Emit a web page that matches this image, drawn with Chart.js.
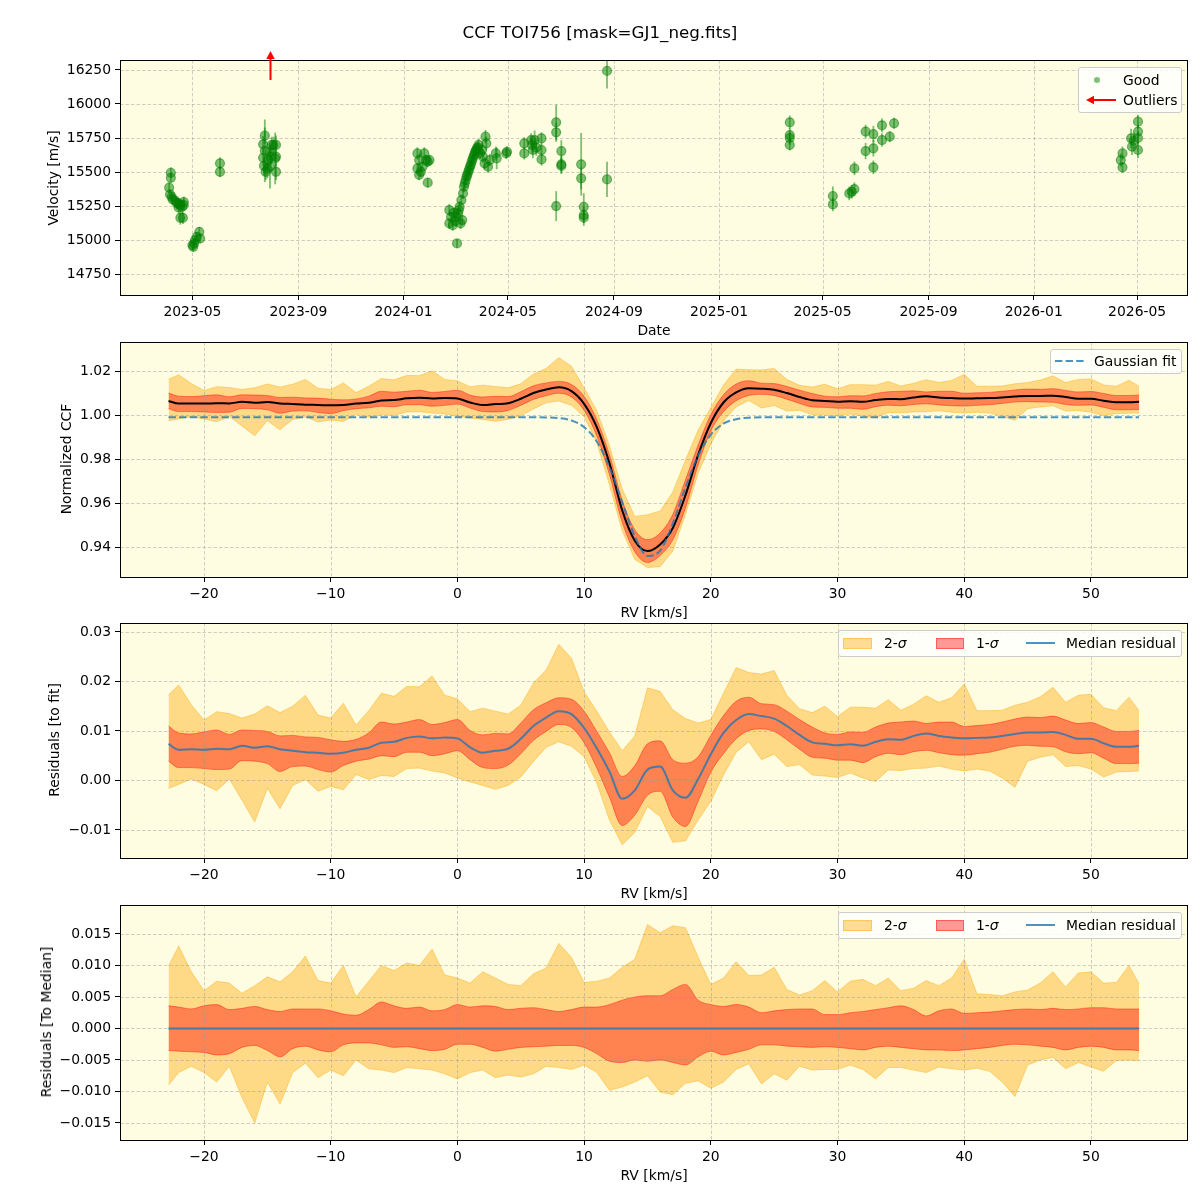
<!DOCTYPE html>
<html>
<head>
<meta charset="utf-8">
<title>CCF TOI756</title>
<script src="https://cdn.jsdelivr.net/npm/chart.js@4.4.1/dist/chart.umd.min.js"></script>
<style>
html,body{margin:0;padding:0;background:#ffffff;}
#fig{position:relative;width:1200px;height:1200px;background:#ffffff;font-family:"DejaVu Sans",sans-serif;color:#000;overflow:hidden;}
canvas{position:absolute;left:0;}
.txt{position:absolute;white-space:nowrap;font-size:13.9px;line-height:16px;}
.cen{position:absolute;white-space:nowrap;font-size:13.9px;line-height:16px;transform:translate(-50%,-50%);}
.ylab{position:absolute;white-space:nowrap;font-size:13.9px;line-height:16px;transform:translate(-50%,-50%) rotate(-90deg);}
.legend{position:absolute;box-sizing:border-box;background:rgba(255,255,255,0.8);border:1px solid #cccccc;border-radius:3px;}
.patch{position:absolute;box-sizing:border-box;}
</style>
</head>
<body>
<div id="fig">
  <canvas id="c1" width="1200" height="285" style="top:40px"></canvas>
  <canvas id="c2" width="1200" height="285" style="top:322px"></canvas>
  <canvas id="c3" width="1200" height="285" style="top:603px"></canvas>
  <canvas id="c4" width="1200" height="285" style="top:885px"></canvas>

  <div class="cen" style="left:600px;top:32px;font-size:16.7px;line-height:20px;">CCF TOI756 [mask=GJ1_neg.fits]</div>

  <div class="cen" style="left:654px;top:330px;">Date</div>
  <div class="cen" style="left:654px;top:612px;">RV [km/s]</div>
  <div class="cen" style="left:654px;top:893px;">RV [km/s]</div>
  <div class="cen" style="left:654px;top:1175px;">RV [km/s]</div>

  <div class="ylab" style="left:53px;top:178px;">Velocity [m/s]</div>
  <div class="ylab" style="left:66px;top:459px;">Normalized CCF</div>
  <div class="ylab" style="left:54px;top:740px;">Residuals [to fit]</div>
  <div class="ylab" style="left:46px;top:1022px;">Residuals [To Median]</div>

  <!-- legend panel 1 -->
  <div class="legend" style="left:1078px;top:67px;width:104px;height:46px;"></div>
  <div class="patch" style="left:1094px;top:76.5px;width:6px;height:6px;border-radius:50%;background:rgba(0,128,0,0.5);"></div>
  <div class="txt" style="left:1123px;top:71.5px;">Good</div>
  <svg style="position:absolute;left:1084px;top:94px;" width="36" height="12">
    <line x1="8" y1="6" x2="32" y2="6" stroke="#ff0000" stroke-width="2"/>
    <polygon points="2,6 10,1.8 10,10.2" fill="#ff0000"/>
  </svg>
  <div class="txt" style="left:1123px;top:92px;">Outliers</div>

  <!-- legend panel 2 -->
  <div class="legend" style="left:1050px;top:349px;width:132px;height:25px;"></div>
  <svg style="position:absolute;left:1054px;top:355.5px;" width="31" height="10">
    <line x1="1" y1="5" x2="30" y2="5" stroke="rgba(31,119,180,0.8)" stroke-width="2" stroke-dasharray="7.4,3.2"/>
  </svg>
  <div class="txt" style="left:1094px;top:352.5px;">Gaussian fit</div>

  <!-- legend panel 3 -->
  <div class="legend" style="left:838px;top:630px;width:344px;height:27px;"></div>
  <div class="patch" style="left:843px;top:637.5px;width:29px;height:11px;background:rgba(255,165,0,0.4);border:1px solid rgba(255,165,0,0.4);"></div>
  <div class="txt" style="left:884px;top:635px;">2-<i>σ</i></div>
  <div class="patch" style="left:936px;top:637.5px;width:28px;height:11px;background:rgba(255,0,0,0.4);border:1px solid rgba(255,0,0,0.4);"></div>
  <div class="txt" style="left:976px;top:635px;">1-<i>σ</i></div>
  <svg style="position:absolute;left:1026px;top:638px;" width="30" height="10">
    <line x1="0" y1="5" x2="29" y2="5" stroke="rgba(31,119,180,0.8)" stroke-width="2"/>
  </svg>
  <div class="txt" style="left:1066px;top:635px;">Median residual</div>

  <!-- legend panel 4 -->
  <div class="legend" style="left:838px;top:912px;width:344px;height:27px;"></div>
  <div class="patch" style="left:843px;top:919.5px;width:29px;height:11px;background:rgba(255,165,0,0.4);border:1px solid rgba(255,165,0,0.4);"></div>
  <div class="txt" style="left:884px;top:917px;">2-<i>σ</i></div>
  <div class="patch" style="left:936px;top:919.5px;width:28px;height:11px;background:rgba(255,0,0,0.4);border:1px solid rgba(255,0,0,0.4);"></div>
  <div class="txt" style="left:976px;top:917px;">1-<i>σ</i></div>
  <svg style="position:absolute;left:1026px;top:920px;" width="30" height="10">
    <line x1="0" y1="5" x2="29" y2="5" stroke="rgba(31,119,180,0.8)" stroke-width="2"/>
  </svg>
  <div class="txt" style="left:1066px;top:917px;">Median residual</div>
</div>

<script>
// ---------------- DATA ----------------
// RV grid (km/s)
const rvGrid = [-22.8,-22,-21,-20,-19,-18,-17,-16,-15,-14,-13,-12,-11,-10,-9,-8,-7,-6,-5,-4,-3,-2,-1,0,
  1,2,3,4,5,6,7,8,9,10,11,12,13,14,15,16,17,18,19,20,21,22,23,24,25,26,27,28,29,30,
  31,32,33,34,35,36,37,38,39,40,41,42,43,44,45,46,47,48,49,50,51,52,53,53.8];

// Gaussian fit of the CCF
const gaussFit = [0.999,0.999,0.999,0.999,0.999,0.999,0.999,0.999,0.999,0.999,
  0.999,0.999,0.999,0.999,0.999,0.999,0.999,0.999,0.999,0.999,
  0.999,0.999,0.999,0.999,0.999,0.999,0.999,0.999,0.999,0.999,
  0.9989,0.9986,0.9975,0.9945,0.9880,0.9763,0.9605,0.9449,0.9360,0.9384,
  0.9507,0.9671,0.9816,0.9911,0.9961,0.9981,0.9988,0.999,0.999,0.999,
  0.999,0.999,0.999,0.999,0.999,0.999,0.999,0.999,0.999,0.999,
  0.999,0.999,0.999,0.999,0.999,0.999,0.999,0.999,0.999,0.999,
  0.999,0.999,0.999,0.999,0.999,0.999,0.999,0.999];

// Median residual (CCF - fit)
const medResid = [0.0074,0.0062,0.0063,0.0062,0.0064,0.0063,0.0070,0.0066,0.0069,0.0063,
  0.0060,0.0057,0.0056,0.0054,0.0056,0.0062,0.0066,0.0076,0.0078,0.0086,
  0.0089,0.0085,0.0087,0.0085,0.0067,0.0056,0.0060,0.0064,0.0084,0.0110,
  0.0127,0.0140,0.0134,0.0106,0.0065,0.0018,-0.0037,-0.0020,0.0022,0.0028,
  -0.0020,-0.0035,0.0003,0.0053,0.0096,0.0122,0.0134,0.0130,0.0125,0.0110,
  0.0092,0.0077,0.0074,0.0071,0.0073,0.0070,0.0078,0.0083,0.0082,0.0090,
  0.0095,0.0090,0.0087,0.0085,0.0086,0.0087,0.0090,0.0094,0.0097,0.0097,
  0.0098,0.0092,0.0084,0.0084,0.0075,0.0068,0.0068,0.0070];

// Deviations from the median (residuals to median)
const sig1Up = [0.0036,0.0034,0.0031,0.0036,0.0038,0.0030,0.0032,0.0035,0.0030,0.0027,
  0.0031,0.0031,0.0031,0.0028,0.0023,0.0021,0.0030,0.0042,0.0036,0.0032,
  0.0034,0.0028,0.0030,0.0038,0.0034,0.0036,0.0035,0.0030,0.0032,0.0033,
  0.0030,0.0027,0.0030,0.0034,0.0034,0.0038,0.0045,0.0050,0.0052,0.0052,
  0.0062,0.0070,0.0045,0.0038,0.0035,0.0038,0.0034,0.0025,0.0028,0.0030,
  0.0031,0.0031,0.0022,0.0022,0.0025,0.0027,0.0030,0.0033,0.0036,0.0030,
  0.0020,0.0028,0.0031,0.0024,0.0025,0.0026,0.0028,0.0030,0.0031,0.0030,
  0.0032,0.0030,0.0031,0.0033,0.0033,0.0031,0.0031,0.0031];
const sig1Lo = [-0.0035,-0.0036,-0.0037,-0.0038,-0.0042,-0.0040,-0.0030,-0.0027,-0.0035,-0.0045,
  -0.0032,-0.0028,-0.0034,-0.0037,-0.0026,-0.0023,-0.0023,-0.0026,-0.0030,-0.0029,
  -0.0032,-0.0035,-0.0033,-0.0025,-0.0025,-0.0030,-0.0036,-0.0033,-0.0030,-0.0029,
  -0.0028,-0.0027,-0.0027,-0.0030,-0.0040,-0.0052,-0.0054,-0.0050,-0.0052,-0.0050,
  -0.0054,-0.0058,-0.0045,-0.0036,-0.0042,-0.0038,-0.0033,-0.0026,-0.0026,-0.0028,
  -0.0029,-0.0030,-0.0029,-0.0030,-0.0032,-0.0034,-0.0030,-0.0028,-0.0030,-0.0032,
  -0.0034,-0.0034,-0.0035,-0.0034,-0.0032,-0.0030,-0.0027,-0.0025,-0.0026,-0.0028,
  -0.0030,-0.0034,-0.0030,-0.0028,-0.0030,-0.0034,-0.0034,-0.0035];
const sig2Up = [0.0099,0.0131,0.0090,0.0060,0.0075,0.0072,0.0056,0.0068,0.0082,0.0074,
  0.0090,0.0115,0.0076,0.0072,0.0100,0.0050,0.0075,0.0100,0.0092,0.0104,
  0.0100,0.0126,0.0085,0.0080,0.0072,0.0090,0.0080,0.0070,0.0068,0.0087,
  0.0096,0.0135,0.0113,0.0073,0.0075,0.0080,0.0097,0.0110,0.0165,0.0152,
  0.0163,0.0160,0.0113,0.0070,0.0080,0.0106,0.0084,0.0085,0.0097,0.0062,
  0.0053,0.0060,0.0076,0.0058,0.0075,0.0078,0.0068,0.0080,0.0060,0.0064,
  0.0076,0.0068,0.0080,0.0110,0.0055,0.0054,0.0052,0.0058,0.0061,0.0072,
  0.0090,0.0066,0.0088,0.0090,0.0072,0.0073,0.0100,0.0071];
const sig2Lo = [-0.0090,-0.0070,-0.0060,-0.0070,-0.0085,-0.0060,-0.0110,-0.0150,-0.0085,-0.0120,
  -0.0070,-0.0055,-0.0078,-0.0066,-0.0075,-0.0050,-0.0064,-0.0066,-0.0070,-0.0062,
  -0.0064,-0.0066,-0.0072,-0.0080,-0.0070,-0.0066,-0.0078,-0.0074,-0.0077,-0.0072,
  -0.0060,-0.0062,-0.0065,-0.0058,-0.0070,-0.0098,-0.0093,-0.0085,-0.0075,-0.0101,
  -0.0105,-0.0087,-0.0083,-0.0095,-0.0085,-0.0065,-0.0056,-0.0088,-0.0072,-0.0082,
  -0.0060,-0.0066,-0.0065,-0.0065,-0.0058,-0.0065,-0.0080,-0.0062,-0.0062,-0.0066,
  -0.0070,-0.0061,-0.0064,-0.0066,-0.0063,-0.0068,-0.0085,-0.0108,-0.0058,-0.0050,
  -0.0046,-0.0064,-0.0054,-0.0061,-0.0068,-0.0051,-0.0050,-0.0051];

// Tick values
const rvTicks = [-20,-10,0,10,20,30,40,50];
const ccfTicks = [0.94,0.96,0.98,1.00,1.02];
const fitResTicks = [-0.01,0.00,0.01,0.02,0.03];
const medResTicks = [-0.015,-0.010,-0.005,0.000,0.005,0.010,0.015];
const velTicks = [14750,15000,15250,15500,15750,16000,16250];
const dateTicks = ['2023-05','2023-09','2024-01','2024-05','2024-09','2025-01','2025-05','2025-09','2026-01','2026-05'];

// RV time series (good points)
const obsDates = [
  '2023-04-04','2023-04-05','2023-04-06','2023-04-06','2023-04-07','2023-04-08','2023-04-11','2023-04-13','2023-04-15','2023-04-15','2023-04-17','2023-04-17','2023-04-19','2023-04-20','2023-04-21','2023-04-21',
  '2023-05-01','2023-05-02','2023-05-03','2023-05-04','2023-05-06','2023-05-09','2023-05-10',
  '2023-06-02','2023-06-02',
  '2023-07-22','2023-07-22','2023-07-23','2023-07-24','2023-07-24','2023-07-25','2023-07-27','2023-07-28','2023-07-30','2023-07-30','2023-07-31','2023-08-01','2023-08-03','2023-08-05','2023-08-06','2023-08-06','2023-08-06',
  '2024-01-17','2024-01-17','2024-01-19','2024-01-19','2024-01-21','2024-01-23','2024-01-25','2024-01-27','2024-01-29','2024-01-29','2024-01-31',
  '2024-02-23','2024-02-23','2024-02-25','2024-02-27','2024-02-28','2024-03-01','2024-03-02','2024-03-03','2024-03-04','2024-03-05','2024-03-06','2024-03-07','2024-03-08','2024-03-09','2024-03-10','2024-03-11','2024-03-12','2024-03-13','2024-03-14','2024-03-15','2024-03-16','2024-03-17','2024-03-18','2024-03-19','2024-03-20','2024-03-21','2024-03-22','2024-03-23','2024-03-24','2024-03-25','2024-03-26','2024-03-27','2024-03-28','2024-03-30','2024-04-01','2024-04-02','2024-04-04','2024-04-05','2024-04-06','2024-04-08','2024-04-10','2024-04-17','2024-04-18','2024-04-29','2024-04-30',
  '2024-05-20','2024-05-20','2024-05-28','2024-05-29','2024-05-30','2024-06-01','2024-06-03','2024-06-09','2024-06-09','2024-06-09',
  '2024-06-26','2024-06-26','2024-06-26','2024-07-02','2024-07-02','2024-07-02',
  '2024-07-25','2024-07-25','2024-07-28','2024-07-28','2024-07-28',
  '2024-08-24','2024-08-24',
  '2025-03-24','2025-03-24','2025-03-24','2025-03-24',
  '2025-05-13','2025-05-13',
  '2025-06-01','2025-06-04','2025-06-07','2025-06-07',
  '2025-06-20','2025-06-20','2025-06-29','2025-06-29','2025-06-29','2025-07-09','2025-07-09','2025-07-18','2025-07-23',
  '2026-04-12','2026-04-14','2026-04-14','2026-04-24','2026-04-25','2026-04-27','2026-05-02','2026-05-02','2026-05-02','2026-05-02'
];
const obsVel = [
  15385,15336,15495,15458,15318,15300,15289,15270,15270,15240,15257,15164,15245,15164,15257,15280,
  14963,14951,14976,15000,15024,15061,15012,
  15564,15502,
  15704,15605,15546,15767,15656,15502,15525,15588,15540,15649,15610,15699,15699,15600,15699,15613,15502,
  15637,15527,15588,15480,15502,15540,15637,15588,15576,15422,15588,
  15221,15123,15170,15110,15200,15140,15171,14976,15196,15220,15245,15123,15294,15147,15343,15392,15417,15440,15466,15480,15502,15520,15539,15555,15576,15595,15613,15630,15649,15660,15674,15680,15699,15640,15662,15613,15564,15760,15711,15539,15588,15637,15601,15637,15649,
  15711,15637,15735,15699,15662,15735,15680,15748,15662,15593,
  15865,15792,15250,15654,15557,15545,
  15557,15454,15245,15184,15165,
  16243,15446,
  15865,15772,15750,15699,
  15324,15262,
  15343,15355,15375,15527,
  15797,15654,15779,15674,15535,15843,15735,15760,15858,
  15588,15637,15535,15748,15686,15730,15870,15797,15750,15662
];
const obsErr = [
  40,35,40,35,35,35,40,45,40,50,40,50,50,45,45,40,
  35,35,35,35,35,35,35,
  45,40,
  60,60,70,60,230,60,70,60,160,60,60,60,60,190,70,70,60,
  45,40,45,40,40,40,45,40,40,35,40,
  45,40,40,40,40,40,40,30,40,40,40,40,40,40,40,40,40,40,40,40,40,40,40,40,40,40,40,40,40,40,45,45,45,45,45,45,45,50,50,45,45,50,80,40,40,
  45,45,50,60,60,70,60,45,45,45,
  130,70,110,80,60,60,
  230,80,100,60,60,
  130,130,
  50,50,50,40,
  70,50,
  50,50,50,50,
  50,60,60,60,50,50,50,40,40,
  50,50,40,70,60,60,50,50,50,60
];
// Outliers (above the plotted range)
const outlierDates = ['2023-07-30'];

// ---------------- HELPERS ----------------
const toTs = s => Date.parse(s + 'T00:00:00Z');
const FONT = {family: '"DejaVu Sans", sans-serif', size: 13.9};
const BG = '#fefde2';
const GRIDC = 'rgba(150,150,150,0.45)';
const ORANGE = 'rgba(255,165,0,0.4)';
const RED = 'rgba(255,0,0,0.4)';
const BLUE = 'rgba(31,119,180,0.8)';
function fmt(v, d) {
  const s = Math.abs(v) < 1e-12 ? (0).toFixed(d) : v.toFixed(d);
  return s.replace('-', '\u2212');
}

function drawGrid(chart) {
  const {ctx, chartArea: a, scales} = chart;
  ctx.save();
  ctx.beginPath();
  ctx.rect(a.left, a.top, a.right - a.left, a.bottom - a.top);
  ctx.clip();
  ctx.strokeStyle = GRIDC;
  ctx.lineWidth = 1;
  ctx.setLineDash([3.5, 2]);
  scales.x.ticks.forEach(t => {
    const p = Math.round(scales.x.getPixelForValue(t.value)) + 0.5;
    ctx.beginPath(); ctx.moveTo(p, a.top); ctx.lineTo(p, a.bottom); ctx.stroke();
  });
  scales.y.ticks.forEach(t => {
    const p = Math.round(scales.y.getPixelForValue(t.value)) + 0.5;
    ctx.beginPath(); ctx.moveTo(a.left, p); ctx.lineTo(a.right, p); ctx.stroke();
  });
  ctx.restore();
}

const framePlugin = {
  id: 'mplFrame',
  beforeDraw(chart) {
    const {ctx, chartArea: a} = chart;
    ctx.save();
    ctx.fillStyle = BG;
    ctx.fillRect(a.left, a.top, a.right - a.left, a.bottom - a.top);
    ctx.restore();
  },
  afterDraw(chart) {
    const {ctx, chartArea: a} = chart;
    ctx.save();
    ctx.strokeStyle = '#000';
    ctx.lineWidth = 1;
    ctx.setLineDash([]);
    ctx.strokeRect(a.left + 0.5, a.top + 0.5, a.right - a.left - 1, a.bottom - a.top);
    ctx.restore();
  }
};

const gridPlugin = {
  id: 'mplGrid',
  beforeDatasetsDraw(chart, args, opts) { if (opts.atIndex == null) drawGrid(chart); },
  beforeDatasetDraw(chart, args, opts) { if (opts.atIndex === args.index) drawGrid(chart); }
};

const errPlugin = {
  id: 'errBars',
  beforeDatasetsDraw(chart) {
    const {ctx, chartArea: a, scales: {x, y}} = chart;
    ctx.save();
    ctx.beginPath();
    ctx.rect(a.left, a.top, a.right - a.left, a.bottom - a.top);
    ctx.clip();
    ctx.strokeStyle = 'rgba(0,128,0,0.5)';
    ctx.lineWidth = 1.8;
    obsDates.forEach((d, i) => {
      const px = x.getPixelForValue(toTs(d));
      ctx.beginPath();
      ctx.moveTo(px, y.getPixelForValue(obsVel[i] - obsErr[i]));
      ctx.lineTo(px, y.getPixelForValue(obsVel[i] + obsErr[i]));
      ctx.stroke();
    });
    ctx.restore();
  }
};

const outlierPlugin = {
  id: 'outliers',
  afterDraw(chart) {
    const {ctx, chartArea: a, scales: {x}} = chart;
    ctx.save();
    ctx.strokeStyle = '#ff0000';
    ctx.fillStyle = '#ff0000';
    ctx.lineWidth = 2;
    outlierDates.forEach(d => {
      const px = Math.round(x.getPixelForValue(toTs(d))) + 0.5;
      ctx.beginPath(); ctx.moveTo(px, a.top + 20); ctx.lineTo(px, a.top - 3); ctx.stroke();
      ctx.beginPath();
      ctx.moveTo(px, a.top - 9);
      ctx.lineTo(px - 4.2, a.top - 1);
      ctx.lineTo(px + 4.2, a.top - 1);
      ctx.closePath(); ctx.fill();
    });
    ctx.restore();
  }
};

function baseScaleX(extra) {
  return Object.assign({
    type: 'linear',
    afterFit: s => { s.height = 30; },
    ticks: {font: FONT, color: '#000', padding: 4, maxRotation: 0, autoSkip: false},
    grid: {drawOnChartArea: false, drawTicks: true, tickLength: 5, tickColor: '#000', tickWidth: 1},
    border: {display: false}
  }, extra);
}
function baseScaleY(extra) {
  return Object.assign({
    type: 'linear',
    afterFit: s => { s.width = 120; },
    ticks: {font: FONT, color: '#000', padding: 4, autoSkip: false},
    grid: {drawOnChartArea: false, drawTicks: true, tickLength: 5, tickColor: '#000', tickWidth: 1},
    border: {display: false}
  }, extra);
}
const baseOptions = (scales, gridIndex) => ({
  responsive: false,
  animation: false,
  devicePixelRatio: 1,
  events: [],
  layout: {padding: {left: 0, right: 12, top: 20, bottom: 0}},
  plugins: {legend: {display: false}, tooltip: {enabled: false}, mplGrid: {atIndex: gridIndex}},
  scales: scales
});

// ---------------- PANEL 1: RV time series ----------------
new Chart(document.getElementById('c1'), {
  type: 'scatter',
  data: {
    datasets: [{
      data: obsDates.map((d, i) => ({x: toTs(d), y: obsVel[i]})),
      pointRadius: 4.5,
      pointBackgroundColor: 'rgba(0,128,0,0.5)',
      pointBorderColor: 'rgba(0,128,0,0.5)',
      pointBorderWidth: 1.2,
      pointHoverRadius: 4.5
    }]
  },
  options: baseOptions({
    x: baseScaleX({
      min: toTs('2023-02-06'), max: toTs('2026-06-29'),
      afterBuildTicks: s => { s.ticks = dateTicks.map(m => ({value: toTs(m + '-01')})); },
      ticks: {font: FONT, color: '#000', padding: 4, maxRotation: 0, autoSkip: false,
        callback: v => { const d = new Date(v); return d.getUTCFullYear() + '-' + String(d.getUTCMonth() + 1).padStart(2, '0'); }}
    }),
    y: baseScaleY({
      min: 14597, max: 16323,
      afterBuildTicks: s => { s.ticks = velTicks.map(v => ({value: v})); },
      ticks: {font: FONT, color: '#000', padding: 4, autoSkip: false, callback: v => fmt(v, 0)}
    })
  }, null),
  plugins: [framePlugin, gridPlugin, errPlugin, outlierPlugin]
});

// ---------------- band chart builder ----------------
function bandChart(id, center, lineColor, yMin, yMax, yTicks, dec, extraLine) {
  const pts = arr => rvGrid.map((x, i) => ({x: x, y: arr[i]}));
  const lo2 = center.map((c, i) => c + sig2Lo[i]);
  const hi2 = center.map((c, i) => c + sig2Up[i]);
  const lo1 = center.map((c, i) => c + sig1Lo[i]);
  const hi1 = center.map((c, i) => c + sig1Up[i]);
  // 'order': higher values are drawn first (underneath)
  const datasets = [
    {order: 9, data: pts(lo2), borderColor: ORANGE, borderWidth: 1, pointRadius: 0, fill: false, tension: 0},
    {order: 8, data: pts(hi2), borderColor: ORANGE, backgroundColor: ORANGE, borderWidth: 1, pointRadius: 0, fill: '-1', tension: 0},
    {order: 7, data: pts(lo1), borderColor: RED, borderWidth: 1, pointRadius: 0, fill: false, cubicInterpolationMode: 'monotone'},
    {order: 6, data: pts(hi1), borderColor: RED, backgroundColor: RED, borderWidth: 1, pointRadius: 0, fill: '-1', cubicInterpolationMode: 'monotone'},
    {order: 2, data: pts(center), borderColor: lineColor, borderWidth: 2, pointRadius: 0, fill: false, cubicInterpolationMode: 'monotone'}
  ];
  if (extraLine) {
    datasets.push({order: 1, data: pts(extraLine), borderColor: BLUE, borderWidth: 2, borderDash: [7.4, 3.2],
      pointRadius: 0, fill: false, cubicInterpolationMode: 'monotone'});
  }
  new Chart(document.getElementById(id), {
    type: 'line',
    data: {datasets: datasets},
    options: baseOptions({
      x: baseScaleX({
        min: -26.63, max: 57.66,
        afterBuildTicks: s => { s.ticks = rvTicks.map(v => ({value: v})); },
        ticks: {font: FONT, color: '#000', padding: 4, maxRotation: 0, autoSkip: false, callback: v => fmt(v, 0)}
      }),
      y: baseScaleY({
        min: yMin, max: yMax,
        afterBuildTicks: s => { s.ticks = yTicks.map(v => ({value: v})); },
        ticks: {font: FONT, color: '#000', padding: 4, autoSkip: false, callback: v => fmt(v, dec)}
      })
    }, 4),
    plugins: [framePlugin, gridPlugin]
  });
}

// Panel 2: normalized CCF = fit + residual
const ccfMedian = gaussFit.map((f, i) => f + medResid[i]);
bandChart('c2', ccfMedian, '#000000', 0.9264, 1.0332, ccfTicks, 2, gaussFit);

// Panel 3: residuals to fit
bandChart('c3', medResid, BLUE, -0.01566, 0.0318, fitResTicks, 2, null);

// Panel 4: residuals to median
const zeroLine = medResid.map(m => m - m);
bandChart('c4', zeroLine, BLUE, -0.0177, 0.0196, medResTicks, 3, null);
</script>
</body>
</html>
